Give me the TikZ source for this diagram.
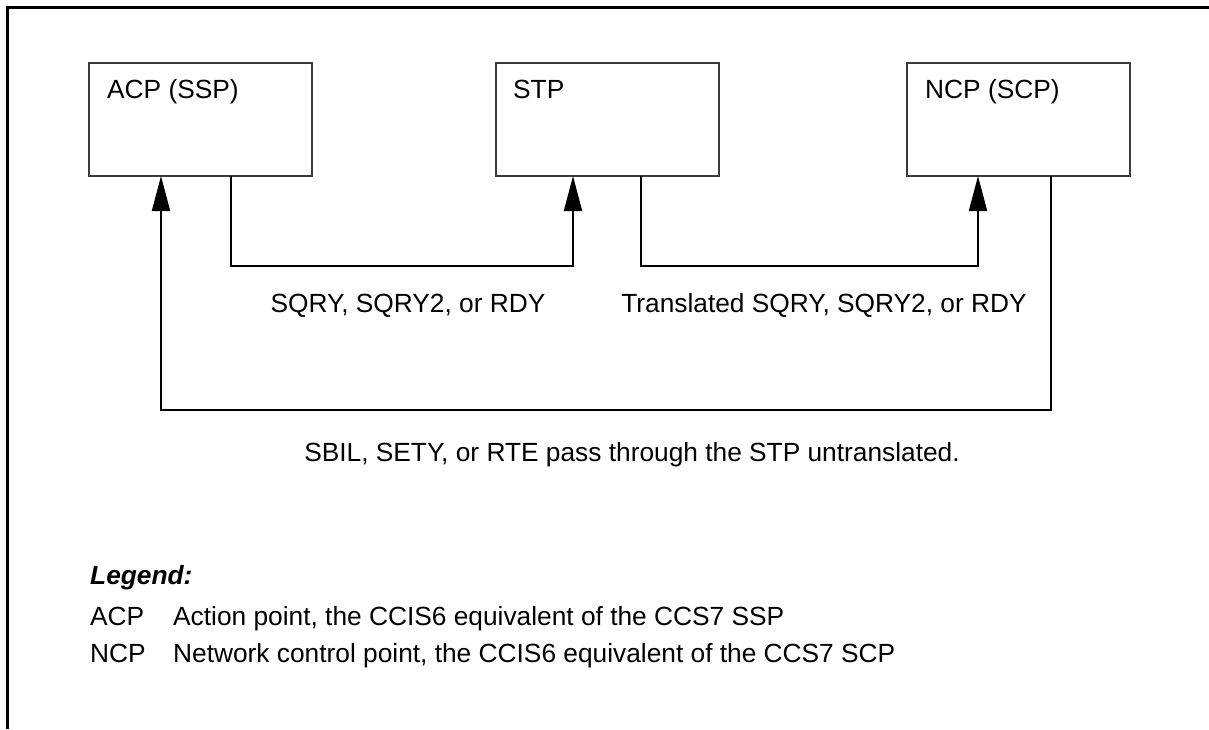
\documentclass[tikz,border=0pt]{standalone}
\usepackage{fontspec}
\setmainfont{Liberation Sans}
\usetikzlibrary{arrows.meta}
\definecolor{boxgray}{RGB}{60,60,60}
\begin{document}
\begin{tikzpicture}[x=1pt,y=-1pt,
  basefont/.style={font=\fontsize{26.3pt}{31pt}\selectfont},
  box/.style={draw=boxgray, line width=1.2pt, minimum width=223pt, minimum height=113pt, inner sep=0pt, outer sep=0pt},
  conn/.style={line width=2pt, -{Triangle[length=35pt,width=18pt]}},
  txt/.style={basefont, inner sep=0pt, anchor=base west},
  ctxt/.style={basefont, inner sep=0pt, anchor=base},
  frame/.style={line width=3pt}]
\useasboundingbox (0,0) rectangle (1209,729);
% frame
\coordinate (frTR) at (1209,7.5);
\coordinate (frTL) at (7.5,7.5);
\coordinate (frBL) at (7.5,729);
\draw[frame] (frTR) -- (frTL) -- (frBL);
% boxes
\node[box] (acp) at (200.5,119.5) {};
\node[box] (stp) at (607.5,119.5) {};
\node[box] (ncp) at (1018.5,119.5) {};
\node[txt] (acplbl) at ([xshift=18pt,yshift=-35pt]acp.north west) {ACP (SSP)};
\node[txt] (stplbl) at ([xshift=17pt,yshift=-35pt]stp.north west) {STP};
\node[txt] (ncplbl) at ([xshift=18pt,yshift=-35pt]ncp.north west) {NCP (SCP)};
% connectors
\draw[conn] ([xshift=142pt]acp.south west) -- ++(0,90) -| ([xshift=77pt]stp.south west);
\draw[conn] ([xshift=145pt]stp.south west) -- ++(0,90) -| ([xshift=71pt]ncp.south west);
\draw[conn] ([xshift=144pt]ncp.south west) -- ++(0,234) -| ([xshift=72pt]acp.south west);
% connector labels
\node[ctxt] (l1) at (408,312) {SQRY, SQRY2, or RDY};
\node[ctxt] (l2) at (824,312) {Translated SQRY, SQRY2, or RDY};
\node[ctxt] (l3) at (632,461) {SBIL, SETY, or RTE pass through the STP untranslated.};
% legend
\node[txt, font=\fontsize{26.3pt}{31pt}\selectfont\bfseries\itshape] (leg) at (90,584) {Legend:};
\node[txt] (legacp) at (90,625) {ACP};
\node[txt] (legacpd) at (173,625) {Action point, the CCIS6 equivalent of the CCS7 SSP};
\node[txt] (legncp) at (90,662) {NCP};
\node[txt] (legncpd) at (173,662) {Network control point, the CCIS6 equivalent of the CCS7 SCP};
\end{tikzpicture}
\end{document}
